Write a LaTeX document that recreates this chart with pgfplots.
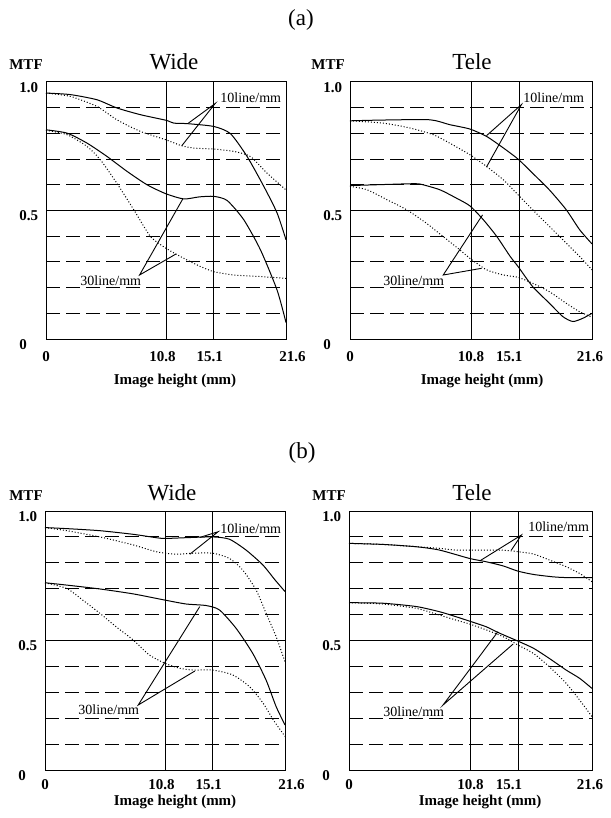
\documentclass[border=0pt]{standalone}
\usepackage{fontspec}
\setmainfont{Liberation Serif}
\usepackage{pgfplots}
\pgfplotsset{compat=1.18}

\pgfplotsset{
  mtf/.style={
    scale only axis, anchor=south west, clip=false,
    xmin=0, xmax=21.6, ymin=0, ymax=1,
    axis line style={line width=0.5pt},
    xtick={0,10.8,15.1,21.6},
    ytick={0,0.5,1}, yticklabels={0,0.5,1.0},
    minor ytick={0.1,0.2,0.3,0.4,0.6,0.7,0.8,0.9},
    xmajorgrids, ymajorgrids, yminorgrids,
    major grid style={line width=0.5pt, black},
    minor grid style={line width=0.5pt, black, dash pattern=on 7pt off 3pt},
    major tick length=0pt, minor tick length=0pt,
    tick label style={font=\bfseries\fontsize{7.5}{8}\selectfont, inner sep=0pt},
    yticklabel style={anchor=west, xshift=-13.5pt, yshift=-2.8pt},
  },
  wide/.style={xticklabels={0,10.8\hspace*{3.5pt},15.1\hspace*{4pt},\hspace*{6.5pt}21.6}},
  tele/.style={xticklabels={0,10.8,15.1\hspace*{10pt},21.6\hspace*{2pt}}},
  s/.style={black, line width=0.5pt, smooth, tension=0.4},
  d/.style={black, line width=0.5pt, smooth, tension=0.4, dash pattern=on 0.5pt off 1pt},
}
\tikzset{lead/.style={black, line width=0.45pt}}
\newcommand\ann{\fontsize{7}{8}\selectfont}
\newcommand\lab{\bfseries\fontsize{7.5}{8}\selectfont}
\newcommand\ttl{\fontsize{11.5}{13}\selectfont}

\begin{document}
\begin{tikzpicture}
\useasboundingbox (0,0) rectangle (305pt,-409pt);

% ---------- (a) Wide
\begin{axis}[mtf, wide, at={(23pt,-169.5pt)}, width=120pt, height=128.5pt,
  xticklabel style={anchor=base, yshift=-11pt}]
\addplot[s] coordinates {(0,0.957)(2.19,0.951)(4.58,0.931)(6.38,0.899)(8.48,0.873)(10.8,0.851)(11.5,0.84)(12.7,0.838)(15.1,0.827)(16.6,0.799)(18.1,0.71)(19.6,0.594)(20.8,0.49)(21.6,0.386)};
\addplot[d] coordinates {(0,0.957)(2.19,0.944)(4.58,0.905)(6.38,0.853)(8.48,0.808)(10.8,0.775)(12.2,0.752)(13.3,0.743)(15.1,0.739)(16.9,0.73)(18.4,0.71)(19.9,0.645)(21.6,0.58)};
\addplot[s] coordinates {(0,0.814)(1.9,0.801)(3.7,0.762)(5.5,0.71)(7.3,0.652)(9.1,0.6)(10.8,0.565)(12.4,0.545)(13.8,0.553)(15.1,0.555)(16.3,0.539)(17.8,0.464)(19.3,0.347)(20.8,0.19)(21.6,0.064)};
\addplot[d] coordinates {(0,0.812)(1.9,0.795)(3.7,0.749)(4.9,0.697)(6.38,0.606)(7.9,0.503)(9.4,0.399)(10.8,0.353)(12.4,0.314)(13.9,0.282)(15.1,0.262)(16.9,0.249)(19.3,0.243)(21.6,0.236)};
\draw[lead] (axis cs:12.82,0.84) -- (axis cs:15.22,0.916) -- (axis cs:12.22,0.752);
\draw[lead] (axis cs:12.31,0.545) -- (axis cs:8.42,0.249) -- (axis cs:11.71,0.331);
\node[anchor=west, inner sep=0pt, font=\ann] at (axis cs:15.66,0.937) {10line/mm};
\node[anchor=west, inner sep=0pt, font=\ann] at (axis cs:3.06,0.226) {30line/mm};
\end{axis}

% ---------- (a) Tele
\begin{axis}[mtf, tele, at={(175pt,-169.5pt)}, width=121pt, height=128.5pt,
  xticklabel style={anchor=base, yshift=-11pt}]
\addplot[s] coordinates {(0,0.849)(2.97,0.852)(7.13,0.853)(8.9,0.834)(10.7,0.817)(12.2,0.788)(13.7,0.743)(15.0,0.7)(16.3,0.645)(17.8,0.58)(19.3,0.503)(20.5,0.425)(21.6,0.37)};
\addplot[d] coordinates {(0,0.849)(2.97,0.84)(5.35,0.821)(7.43,0.795)(8.9,0.762)(10.7,0.717)(12.2,0.671)(13.7,0.619)(15.0,0.561)(16.3,0.503)(17.8,0.438)(19.3,0.373)(20.5,0.321)(21.6,0.269)};
\addplot[s] coordinates {(0,0.597)(2.97,0.601)(5.35,0.604)(6.24,0.603)(8.0,0.581)(9.5,0.548)(10.7,0.518)(11.9,0.464)(13.1,0.399)(14.3,0.321)(15.0,0.282)(16.3,0.204)(17.8,0.139)(19.0,0.087)(19.9,0.068)(20.8,0.081)(21.6,0.1)};
\addplot[d] coordinates {(0,0.594)(1.5,0.581)(3.3,0.542)(5.05,0.503)(6.8,0.451)(8.3,0.399)(9.8,0.347)(10.7,0.314)(12.2,0.269)(13.7,0.249)(15.0,0.24)(16.3,0.217)(17.8,0.184)(19.3,0.139)(20.5,0.106)(21.6,0.085)};
\draw[lead] (axis cs:12.18,0.791) -- (axis cs:15.3,0.912) -- (axis cs:12.18,0.669);
\draw[lead] (axis cs:11.83,0.483) -- (axis cs:8.32,0.249) -- (axis cs:11.74,0.275);
\node[anchor=west, inner sep=0pt, font=\ann] at (axis cs:15.44,0.937) {10line/mm};
\node[anchor=west, inner sep=0pt, font=\ann] at (axis cs:2.95,0.226) {30line/mm};
\end{axis}

% ---------- (b) Wide
\begin{axis}[mtf, wide, at={(22.5pt,-385pt)}, width=120pt, height=129.5pt,
  xticklabel style={anchor=base, yshift=-9.8pt}]
\addplot[s] coordinates {(0,0.936)(1.95,0.932)(4.94,0.924)(7.94,0.91)(10.0,0.897)(10.8,0.894)(12.7,0.897)(15.1,0.9)(16.6,0.891)(18.1,0.849)(19.6,0.792)(20.7,0.734)(21.6,0.689)};
\addplot[d] coordinates {(0,0.936)(1.95,0.924)(4.94,0.9)(7.94,0.869)(10.0,0.843)(11.8,0.833)(13.3,0.837)(15.1,0.837)(16.6,0.817)(17.8,0.772)(19.0,0.695)(19.9,0.605)(20.8,0.515)(21.6,0.418)};
\addplot[s] coordinates {(0,0.723)(1.95,0.714)(4.94,0.699)(7.94,0.68)(10.8,0.656)(12.7,0.641)(14.5,0.635)(15.7,0.618)(17.2,0.547)(18.7,0.45)(19.9,0.347)(20.8,0.245)(21.6,0.174)};
\addplot[d] coordinates {(0,0.723)(1.95,0.701)(3.4,0.656)(4.94,0.605)(6.4,0.553)(7.94,0.502)(9.4,0.444)(10.8,0.412)(12.1,0.393)(13.3,0.386)(15.1,0.386)(16.9,0.367)(18.4,0.322)(19.6,0.26)(20.6,0.19)(21.6,0.13)};
\draw[lead] (axis cs:13.93,0.898) -- (axis cs:15.58,0.92) -- (axis cs:13.03,0.833);
\draw[lead] (axis cs:13.93,0.631) -- (axis cs:8.39,0.251) -- (axis cs:13.48,0.382);
\node[anchor=west, inner sep=0pt, font=\ann] at (axis cs:15.75,0.93) {10line/mm};
\node[anchor=west, inner sep=0pt, font=\ann] at (axis cs:2.97,0.232) {30line/mm};
\end{axis}

% ---------- (b) Tele
\begin{axis}[mtf, tele, at={(174.5pt,-385pt)}, width=121.5pt, height=129.5pt,
  xticklabel style={anchor=base, yshift=-9.8pt}]
\addplot[s] coordinates {(0,0.875)(3.0,0.871)(6.0,0.862)(8.06,0.849)(10.7,0.817)(12.2,0.804)(13.7,0.788)(15.0,0.768)(16.4,0.755)(18.1,0.746)(19.3,0.743)(21.6,0.743)};
\addplot[d] coordinates {(0,0.875)(3.0,0.871)(6.0,0.862)(8.06,0.856)(9.5,0.849)(12.2,0.849)(13.7,0.849)(15.0,0.843)(16.4,0.834)(17.8,0.811)(19.3,0.785)(20.5,0.759)(21.6,0.727)};
\addplot[s] coordinates {(0,0.646)(3.0,0.644)(6.0,0.631)(8.06,0.611)(9.5,0.592)(10.7,0.575)(12.2,0.553)(13.4,0.528)(15.0,0.498)(16.4,0.47)(17.8,0.431)(19.3,0.386)(20.5,0.354)(21.6,0.315)};
\addplot[d] coordinates {(0,0.646)(3.0,0.641)(6.0,0.624)(8.06,0.598)(9.5,0.579)(10.7,0.564)(12.2,0.541)(13.7,0.515)(15.0,0.483)(16.4,0.45)(17.8,0.399)(19.3,0.335)(20.5,0.27)(21.6,0.206)};
\draw[lead] (axis cs:11.61,0.807) -- (axis cs:15.32,0.907) -- (axis cs:14.43,0.849);
\draw[lead] (axis cs:13.24,0.534) -- (axis cs:8.36,0.251) -- (axis cs:14.58,0.486);
\node[anchor=west, inner sep=0pt, font=\ann] at (axis cs:15.9,0.938) {10line/mm};
\node[anchor=west, inner sep=0pt, font=\ann] at (axis cs:3.02,0.224) {30line/mm};
\end{axis}

% ---------- titles and labels
\node[anchor=base, font=\ttl] at (150.5pt,-13pt) {(a)};
\node[anchor=base, font=\ttl] at (151pt,-229pt) {(b)};
\node[anchor=base, font=\ttl] at (87pt,-35pt) {Wide};
\node[anchor=base, font=\ttl] at (236pt,-35pt) {Tele};
\node[anchor=base, font=\ttl] at (86pt,-250pt) {Wide};
\node[anchor=base, font=\ttl] at (236pt,-250pt) {Tele};
\node[anchor=base, font=\lab] at (13pt,-35pt) {MTF};
\node[anchor=base, font=\lab] at (164pt,-35pt) {MTF};
\node[anchor=base, font=\lab] at (13pt,-250pt) {MTF};
\node[anchor=base, font=\lab] at (164.5pt,-250pt) {MTF};
\node[anchor=base, font=\lab] at (87.5pt,-192pt) {Image height (mm)};
\node[anchor=base, font=\lab] at (241pt,-192pt) {Image height (mm)};
\node[anchor=base, font=\lab] at (87.5pt,-402.5pt) {Image height (mm)};
\node[anchor=base, font=\lab] at (240pt,-402.5pt) {Image height (mm)};
\end{tikzpicture}
\end{document}
